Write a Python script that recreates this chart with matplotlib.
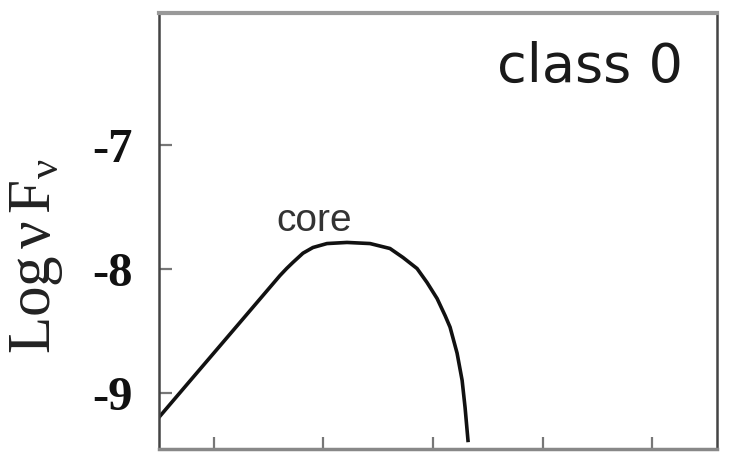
import matplotlib
matplotlib.use("Agg")
import matplotlib.pyplot as plt

# Spectral energy distribution of a class 0 protostar (single core component)
log_nu = [0.489, 0.763, 1.219, 1.603, 1.665, 1.721, 1.813, 1.904, 2.032, 2.215, 2.425,
          2.607, 2.726, 2.854, 2.945, 3.037, 3.110, 3.155, 3.219, 3.265, 3.292, 3.320]
log_nufnu = [-9.21, -8.925, -8.452, -8.053, -7.995, -7.947, -7.872, -7.826, -7.794, -7.785,
             -7.794, -7.834, -7.907, -7.996, -8.109, -8.239, -8.377, -8.47, -8.68, -8.90,
             -9.12, -9.40]

x_ticks = [1, 2, 3, 4, 5]
y_ticks = [-9, -8, -7]
y_ticklabels = ["-9", "-8", "-7"]

plt.rcParams["mathtext.fontset"] = "custom"
plt.rcParams["mathtext.rm"] = "Liberation Serif"
plt.rcParams["mathtext.it"] = "Liberation Serif:italic"

fig = plt.figure(figsize=(7.30, 4.54), dpi=100)
ax = fig.add_axes([159 / 730, 1 - 449 / 454, (717 - 159) / 730, (449 - 13) / 454])

ax.plot(log_nu, log_nufnu, color="#111111", lw=2.6, solid_capstyle="butt",
        solid_joinstyle="round")

ax.set_xlim(0.5, 5.59)
ax.set_ylim(-9.455, -5.93)

ax.set_xticks(x_ticks)
ax.set_xticklabels([])
ax.set_yticks(y_ticks)
ax.set_yticklabels(y_ticklabels, fontfamily="Liberation Serif", fontweight="bold",
                   fontsize=35, color="#111111")
ax.tick_params(axis="both", direction="in", length=9, width=1.6, color="#777777", pad=19)

for side in ["left", "right"]:
    ax.spines[side].set_color("#444444")
    ax.spines[side].set_linewidth(1.8)
ax.spines["top"].set_color("#999999")
ax.spines["top"].set_linewidth(3.0)
ax.spines["bottom"].set_color("#888888")
ax.spines["bottom"].set_linewidth(2.5)

ax.set_ylabel(r"$\mathrm{Log}\,\mathrm{\nu}\,\mathrm{F}_{\mathrm{\nu}}$", fontsize=44,
              color="#222222", va="center")
ax.yaxis.set_label_coords(-0.222, 0.441)

ax.text(1.92, -7.69, "core", fontfamily="Liberation Sans", fontsize=28,
        color="#333333", ha="center", va="baseline")
ax.text(5.28, -6.49, "class 0", fontfamily="DejaVu Sans", fontsize=39,
        color="#1a1a1a", ha="right", va="baseline")

fig.savefig("out.png", dpi=100, facecolor="white")
